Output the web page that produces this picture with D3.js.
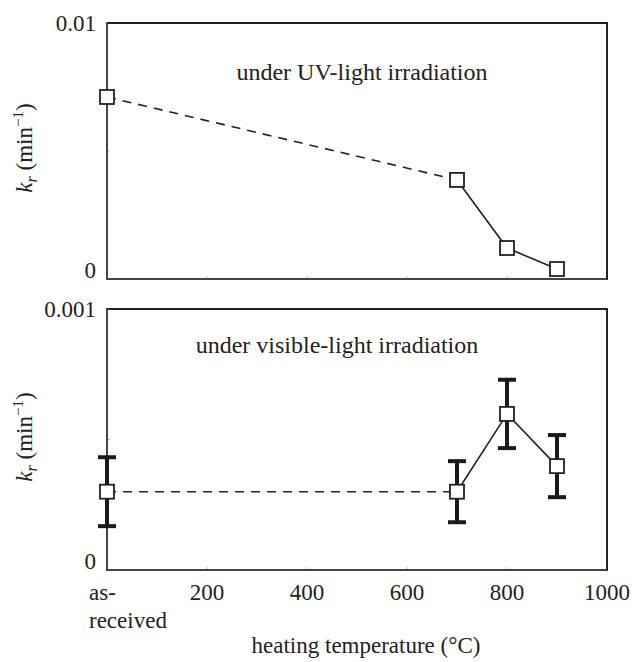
<!DOCTYPE html>
<html>
<head>
<meta charset="utf-8">
<script src="https://cdn.jsdelivr.net/npm/d3@7"></script>
<style>
  html, body { margin: 0; padding: 0; background: #fff; }
  svg { display: block; }
  text { font-family: "Liberation Serif", "Times New Roman", serif; fill: #222; }
</style>
</head>
<body>
<div id="chart"></div>
<script>
// ---- data ----
const xTickValues = [0, 200, 400, 600, 800, 1000];
const xTickLabels = ["as-|received", "200", "400", "600", "800", "1000"];
const temps = [0, 700, 800, 900];            // 0 = as-received
const uvValues = [0.00711, 0.00387, 0.00121, 0.00039];
const visValues = [0.000300, 0.000300, 0.000598, 0.000398];
const visErrors = [0.000132, 0.000117, 0.000131, 0.000119];
const uvTicks = [0, 0.01];
const visTicks = [0, 0.001];
const uvTitle = "under UV-light irradiation";
const visTitle = "under visible-light irradiation";
const xTitle = "heating temperature (°C)";

const W = 632, H = 662;
const FS = 23;
const svg = d3.select("#chart").append("svg").attr("width", W).attr("height", H);

const x = d3.scaleLinear().domain([0, 1000]).range([107, 607]);

function panel(top, bottom, yMax, vals, errs, ticks, title, titleX, titleY, labelCY, tickLabelFmt) {
  const y = d3.scaleLinear().domain([0, yMax]).range([bottom, top]);
  const g = svg.append("g");

  // minor ticks (light)
  g.selectAll(".mx").data(xTickValues.slice(1, -1)).enter().append("line")
    .attr("x1", d => x(d)).attr("x2", d => x(d))
    .attr("y1", bottom).attr("y2", bottom - 3)
    .attr("stroke", "#bbb").attr("stroke-width", 1);
  g.append("line")
    .attr("x1", x(0)).attr("x2", x(0) + 3)
    .attr("y1", y(yMax / 2)).attr("y2", y(yMax / 2))
    .attr("stroke", "#bbb").attr("stroke-width", 1);

  // frame: top/right dark, left/bottom gray
  g.append("line").attr("x1", x(0)).attr("x2", x(1000)).attr("y1", top).attr("y2", top)
    .attr("stroke", "#222").attr("stroke-width", 2);
  g.append("line").attr("x1", x(1000)).attr("x2", x(1000)).attr("y1", top - 1).attr("y2", bottom + 1)
    .attr("stroke", "#222").attr("stroke-width", 2);
  g.append("line").attr("x1", x(0)).attr("x2", x(0)).attr("y1", top - 1).attr("y2", bottom + 1)
    .attr("stroke", "#444").attr("stroke-width", 2);
  g.append("line").attr("x1", x(0)).attr("x2", x(1000)).attr("y1", bottom).attr("y2", bottom)
    .attr("stroke", "#444").attr("stroke-width", 2);

  // y tick labels
  g.selectAll(".yt").data(ticks).enter().append("text")
    .attr("x", 96).attr("y", d => y(d))
    .attr("dy", d => d === 0 ? "-0.05em" : "0.33em")
    .attr("text-anchor", "end").attr("font-size", FS)
    .text(d => tickLabelFmt(d));

  // y axis label
  const lab = g.append("text")
    .attr("transform", `translate(32,${labelCY}) rotate(-90)`)
    .attr("text-anchor", "middle").attr("font-size", FS);
  lab.append("tspan").attr("font-style", "italic").text("k");
  lab.append("tspan").attr("font-style", "italic").attr("font-size", 16).attr("dy", 5).text("r");
  lab.append("tspan").attr("dy", -5).text(" (min");
  lab.append("tspan").attr("font-size", 15).attr("dy", -9).text("−1");
  lab.append("tspan").attr("dy", 9).text(")");

  // title
  g.append("text").attr("x", titleX).attr("y", titleY).attr("text-anchor", "middle")
    .attr("font-size", 24).text(title);

  // lines
  const pts = temps.map((t, i) => [x(t), y(vals[i])]);
  g.append("path").attr("d", d3.line()(pts.slice(0, 2)))
    .attr("fill", "none").attr("stroke", "#222").attr("stroke-width", 1.6)
    .attr("stroke-dasharray", "9,7");
  g.append("path").attr("d", d3.line()(pts.slice(1)))
    .attr("fill", "none").attr("stroke", "#222").attr("stroke-width", 1.6);

  // error bars
  if (errs) {
    const eb = g.selectAll(".eb").data(temps.map((t, i) => ({t, v: vals[i], e: errs[i]}))).enter().append("g");
    eb.append("line").attr("x1", d => x(d.t)).attr("x2", d => x(d.t))
      .attr("y1", d => y(d.v + d.e)).attr("y2", d => y(d.v - d.e))
      .attr("stroke", "#1a1a1a").attr("stroke-width", 4);
    eb.append("line").attr("x1", d => x(d.t) - 9).attr("x2", d => x(d.t) + 9)
      .attr("y1", d => y(d.v + d.e)).attr("y2", d => y(d.v + d.e))
      .attr("stroke", "#1a1a1a").attr("stroke-width", 4);
    eb.append("line").attr("x1", d => x(d.t) - 9).attr("x2", d => x(d.t) + 9)
      .attr("y1", d => y(d.v - d.e)).attr("y2", d => y(d.v - d.e))
      .attr("stroke", "#1a1a1a").attr("stroke-width", 4);
  }

  // markers
  g.selectAll(".mk").data(pts).enter().append("rect")
    .attr("x", d => d[0] - 7).attr("y", d => d[1] - 7)
    .attr("width", 14).attr("height", 14)
    .attr("fill", "#fff").attr("stroke", "#222").attr("stroke-width", 1.8);
  return y;
}

panel(23, 279, 0.01, uvValues, null, uvTicks, uvTitle, 362, 80, 148, d => d === 0 ? "0" : "0.01");
panel(309, 570, 0.001, visValues, visErrors, visTicks, visTitle, 337, 353, 437, d => d === 0 ? "0" : "0.001");

// x tick labels
const xl = svg.append("g");
xTickValues.forEach((v, i) => {
  const lbl = xTickLabels[i];
  if (lbl.includes("|")) {
    const parts = lbl.split("|");
    parts.forEach((p, j) => {
      xl.append("text").attr("x", 89).attr("y", 600 + j * 28)
        .attr("text-anchor", "start").attr("font-size", FS).text(p);
    });
  } else {
    xl.append("text").attr("x", x(v)).attr("y", 600)
      .attr("text-anchor", "middle").attr("font-size", FS).text(lbl);
  }
});

svg.append("text").attr("x", 366).attr("y", 653).attr("text-anchor", "middle")
  .attr("font-size", FS).text(xTitle);
</script>
</body>
</html>
